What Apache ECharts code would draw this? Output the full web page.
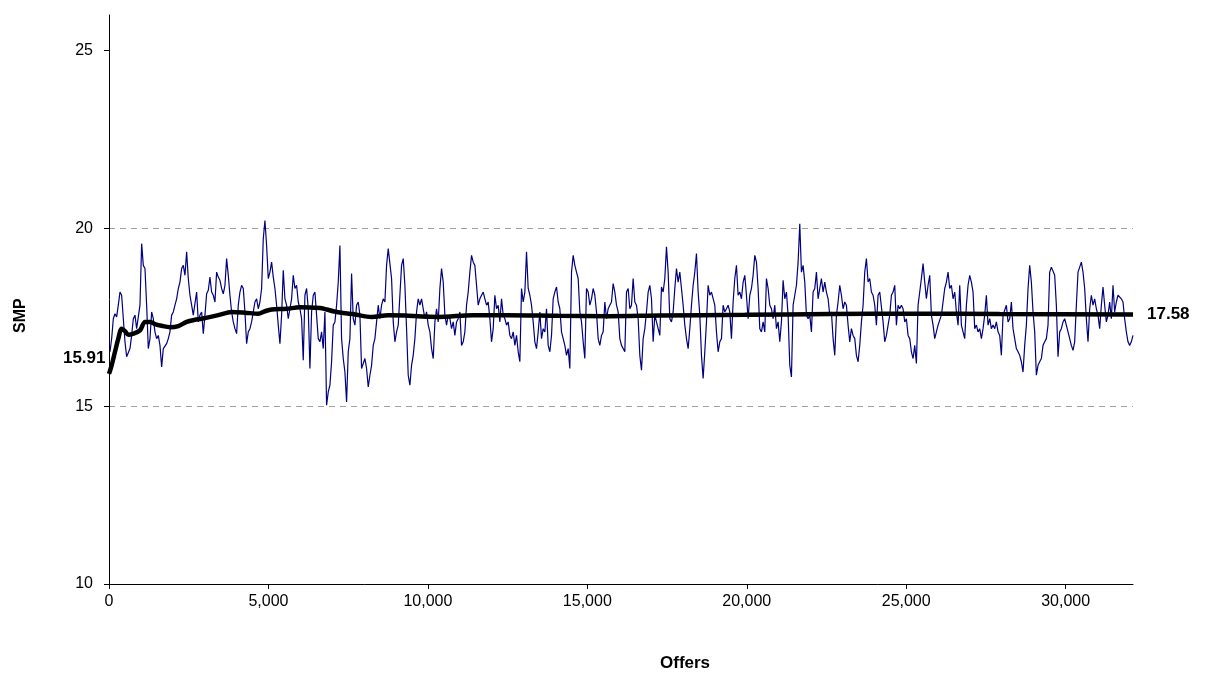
<!DOCTYPE html>
<html>
<head>
<meta charset="utf-8">
<script src="https://cdn.jsdelivr.net/npm/echarts@6/dist/echarts.min.js"></script>
<style>html,body{margin:0;padding:0;background:#fff}#c{width:1205px;height:675px}</style>
</head>
<body>
<div id="c"></div>
<script>
// Sampling grid of the SMP trace (offers)
const OFFER_START = 31;
const OFFER_STEP = 52.25;
// SMP per offer (blue trace)
const smp = [
16.53,16.90,17.46,17.60,17.51,17.84,18.21,18.12,17.46,16.81,16.39,16.43,16.62,16.99,17.46,17.56,17.18,17.18,17.84,19.57,18.96,18.87,17.84,16.62,16.90,17.65,17.46,17.09,16.90,16.99,16.71,16.10,16.62,16.62,16.76,16.90,17.09,17.56,17.65,17.84,18.02,18.31,18.49,18.87,18.96,18.68,19.34,18.59,18.12,17.84,17.56,17.56,
18.21,17.37,17.56,17.65,17.04,17.56,18.16,18.26,18.63,18.21,18.12,17.93,18.77,18.63,18.54,18.31,18.16,18.40,19.15,18.68,18.12,17.65,17.37,17.18,17.04,17.84,18.21,18.40,18.31,17.65,16.76,17.09,17.18,17.37,17.65,17.93,18.02,17.74,17.93,18.31,19.71,20.22,19.52,18.59,18.77,19.05,18.63,18.31,17.84,17.28,16.76,
17.56,18.82,18.02,17.84,17.46,17.74,18.02,18.68,18.31,18.40,17.93,17.74,17.46,16.29,18.12,18.31,17.74,16.06,17.65,18.12,18.21,17.56,16.90,16.81,17.09,16.62,17.65,15.03,15.40,15.59,16.25,17.28,17.37,17.84,18.49,19.52,16.90,16.34,15.96,15.12,16.53,16.90,18.73,17.46,17.28,17.84,17.93,17.56,16.06,16.06,16.34,
16.06,15.54,15.87,16.15,16.71,16.90,17.37,17.84,17.46,17.84,18.02,17.93,18.96,19.43,19.01,18.59,17.37,16.81,17.09,17.28,18.12,18.96,19.15,18.40,17.18,15.87,15.59,16.15,16.43,16.90,17.65,18.02,17.84,18.02,17.74,17.46,17.65,17.28,17.09,16.62,16.34,17.37,17.74,17.37,18.31,18.87,18.49,17.56,17.28,17.56,17.46,
17.18,17.37,16.99,17.37,17.46,17.65,16.71,16.81,17.09,17.84,18.21,18.77,19.24,19.05,18.96,18.40,17.84,18.02,18.12,18.21,18.02,17.84,17.93,17.46,16.81,17.18,18.12,17.74,17.84,17.37,18.02,17.56,17.46,17.28,17.37,16.99,16.90,17.09,16.71,16.99,16.53,16.25,18.31,17.93,18.21,19.34,18.31,18.12,17.84,17.37,16.81,
16.62,17.09,17.65,16.90,17.18,17.09,17.74,16.71,16.53,16.99,18.02,18.21,18.35,17.93,17.74,17.09,16.90,16.71,16.43,16.62,16.06,18.77,19.24,18.96,18.77,18.59,17.65,17.37,16.81,16.34,18.31,18.21,17.84,18.02,18.31,18.12,17.65,16.90,16.71,16.99,17.09,17.93,17.46,17.74,17.84,17.93,18.45,18.21,17.84,17.65,16.90,
16.71,16.71,16.53,18.21,18.31,17.74,17.84,18.59,17.93,17.84,17.46,16.43,16.01,16.90,17.18,17.65,18.21,18.40,18.02,16.81,17.56,17.37,17.18,16.99,18.35,18.21,18.59,19.48,18.77,17.46,17.37,17.65,18.31,18.87,18.49,18.77,18.31,17.84,17.28,16.90,16.62,17.18,17.84,18.40,18.77,19.29,18.21,17.56,16.43,15.78,16.53,
17.37,18.40,18.12,18.21,18.26,17.84,17.09,16.53,16.81,16.90,17.84,17.65,17.74,17.84,17.65,16.90,17.93,18.59,18.96,18.12,18.21,18.02,18.49,18.68,18.12,17.46,18.12,18.31,18.68,19.24,19.05,18.31,17.18,17.09,17.37,17.09,18.59,18.31,17.84,17.74,17.46,17.84,17.18,17.37,16.81,17.37,18.54,18.02,18.21,17.56,16.15,
15.82,17.84,18.12,18.40,19.05,20.13,18.77,18.96,18.49,17.56,17.46,17.56,17.09,18.21,18.31,18.77,18.02,18.31,18.59,18.21,18.49,18.21,18.02,17.56,17.65,16.90,16.43,17.56,17.93,18.40,18.12,17.74,17.93,17.84,17.28,16.81,17.18,16.99,16.90,16.43,16.25,16.71,17.37,17.84,18.77,19.15,18.49,18.59,18.21,18.12,17.84,
17.28,18.12,18.21,18.26,17.37,16.81,16.99,16.99,17.56,18.12,18.21,18.40,17.28,17.84,17.74,17.84,17.74,17.37,17.46,16.99,16.90,16.53,16.34,16.71,16.20,17.84,18.21,18.59,19.01,18.49,18.02,18.40,18.68,17.56,17.28,16.90,17.09,17.28,17.28,17.56,17.93,18.31,18.49,18.77,18.31,18.40,18.02,18.21,17.65,17.28,18.40,
17.28,17.09,16.90,17.84,18.40,18.68,18.49,18.21,17.18,17.28,17.09,17.18,16.90,17.18,17.56,18.12,17.28,17.46,17.18,17.28,17.18,17.37,17.09,16.99,16.43,17.56,17.56,17.84,17.37,17.46,17.93,17.18,16.90,16.62,16.53,16.43,16.25,15.96,16.71,17.28,18.31,18.96,18.49,17.65,17.09,15.87,16.15,16.25,16.34,16.71,16.81,
16.90,17.28,18.77,18.91,18.87,18.68,17.84,16.39,17.09,17.18,17.37,17.46,17.28,17.09,16.90,16.71,16.57,16.81,17.84,18.77,18.91,19.05,18.77,18.31,17.46,16.81,17.74,18.12,17.84,18.02,17.74,17.56,17.18,17.84,18.35,17.84,17.37,17.56,17.93,17.46,18.40,17.65,17.93,18.12,18.16,18.02,17.93,17.46,17.09,16.81,16.71,16.81,16.99
];
// Running average (black line): offers and values
const avgOffers = [0,83,188,292,397,502,606,763,972,1129,1285,1442,1651,1912,2174,2435,2696,2905,3428,3846,4264,4682,4891,5100,5570,5988,6615,6824,7033,7346,7660,7712,8235,8757,9280,9802,10325,11422,12467,14086,15654,17274,19938,22603,25268,27933,32113];
const avgValues = [15.91,16.15,16.53,16.90,17.18,17.11,17.01,17.04,17.13,17.37,17.37,17.31,17.26,17.22,17.25,17.37,17.43,17.46,17.56,17.65,17.63,17.60,17.67,17.72,17.74,17.78,17.76,17.72,17.67,17.62,17.59,17.58,17.51,17.56,17.55,17.52,17.51,17.56,17.56,17.54,17.53,17.55,17.57,17.59,17.60,17.59,17.58];
const xTicks = [0,5000,10000,15000,20000,25000,30000];
const yTicks = [10,15,20,25];

const FONT = 'Arial, "Liberation Sans", sans-serif';
const smpData = smp.map((v,i)=>[OFFER_START + i*OFFER_STEP, v]);
const avgData = avgOffers.map((x,i)=>[x, avgValues[i]]);
const xMax = smpData[smpData.length-1][0];
const labelFont = {fontFamily:FONT, fontSize:17, fontWeight:'bold', color:'#000'};

const chart = echarts.init(document.getElementById('c'), null, {renderer:'canvas'});
chart.setOption({
  animation:false,
  backgroundColor:'#ffffff',
  grid:{left:109, right:1205-1133, top:15, bottom:675-584, containLabel:false},
  xAxis:{
    type:'value', min:0, max:xMax, interval:5000,
    axisLine:{show:true, onZero:false, lineStyle:{color:'#000', width:1}},
    axisTick:{show:true, length:5, inside:false, customValues:xTicks, lineStyle:{color:'#000'}},
    axisLabel:{customValues:xTicks, color:'#000', fontFamily:FONT, fontSize:16, margin:10,
      formatter:v=>v.toLocaleString('en-US')},
    splitLine:{show:false}
  },
  yAxis:{
    type:'value', min:10, max:26, interval:5,
    axisLine:{show:true, lineStyle:{color:'#000', width:1}},
    axisTick:{show:true, length:5, customValues:yTicks, lineStyle:{color:'#000'}},
    axisLabel:{customValues:yTicks, color:'#000', fontFamily:FONT, fontSize:16, margin:16},
    splitLine:{show:true, showMinLine:false, showMaxLine:false, lineStyle:{color:'#a0a0a0', type:[6,5], width:1}}
  },
  graphic:[
    {type:'text', left:660, top:655, style:{text:'Offers', font:'bold 17px '+FONT, fill:'#000'}},
    {type:'text', x:13, y:333, rotation:Math.PI/2, style:{text:'SMP', font:'bold 16px '+FONT, fill:'#000'}}
  ],
  series:[
    {type:'line', data:smpData, showSymbol:false, symbol:'none', z:2,
     lineStyle:{color:'#000080', width:1.2}},
    {type:'line', data:avgData, showSymbol:false, symbol:'none', z:3, smooth:0.3,
     lineStyle:{color:'#000000', width:4.5},
     endLabel:Object.assign({show:true, distance:14, formatter:p=>Number(p.value[1]).toFixed(2)}, labelFont),
     markPoint:{
       symbol:'circle', symbolSize:1, silent:true, animation:false,
       itemStyle:{color:'rgba(0,0,0,0)'},
       data:[
         {coord:avgData[0], value:avgValues[0],
          label:Object.assign({show:true, position:'left', distance:3, offset:[0,-16],
            formatter:p=>Number(p.value).toFixed(2)}, labelFont)}
       ]
     }
    }
  ]
});
</script>
</body>
</html>
